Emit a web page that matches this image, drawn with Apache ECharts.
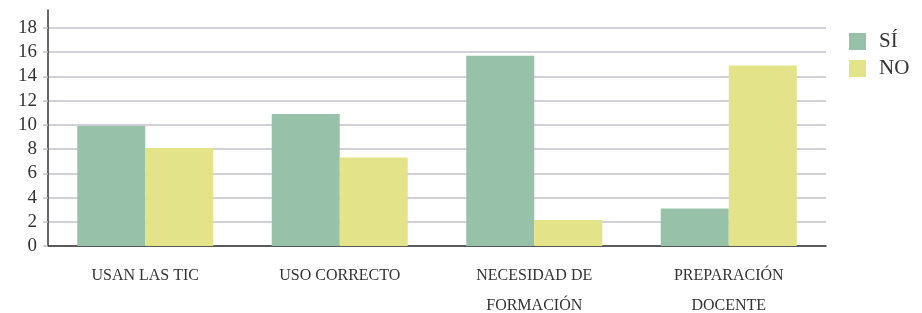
<!DOCTYPE html>
<html>
<head>
<meta charset="utf-8">
<script src="https://cdn.jsdelivr.net/npm/echarts@6/dist/echarts.min.js"></script>
<style>
  html, body { margin: 0; padding: 0; background: #fff; }
  #main { width: 922px; height: 313px; }
</style>
</head>
<body>
<div id="main"></div>
<script>
var categories = ['USAN LAS TIC', 'USO CORRECTO', 'NECESIDAD DE\nFORMACIÓN', 'PREPARACIÓN\nDOCENTE'];
var siValues = [9.9, 10.9, 15.7, 3.1];
var noValues = [8.1, 7.3, 2.15, 14.9];
var seriesNames = ['SÍ', 'NO'];

~function () {
    var myChart = echarts.init(document.getElementById('main'));
    var serif = '"Liberation Serif", "DejaVu Serif", serif';
    var option = {
        animation: false,
        legend: {
            data: seriesNames,
            orient: 'vertical',
            left: 844,
            top: 26,
            itemWidth: 17,
            itemHeight: 17,
            itemGap: 6,
            icon: 'rect',
            textStyle: {fontFamily: serif, fontSize: 21, color: '#333', padding: [0, 0, 0, 8]}
        },
        grid: [
            {left: 48, right: 96, top: 28, bottom: 67, outerBoundsMode: 'none'},
            {left: 48, right: 96, top: 10, bottom: 67, outerBoundsMode: 'none'}
        ],
        xAxis: [
            {
                type: 'category',
                data: categories,
                axisLine: {lineStyle: {color: '#333', width: 1.5}},
                axisTick: {show: false},
                axisLabel: {
                    interval: 0,
                    margin: 15,
                    fontFamily: serif,
                    fontSize: 16,
                    lineHeight: 30,
                    color: '#333'
                }
            },
            {gridIndex: 1, type: 'category', show: false, data: categories}
        ],
        yAxis: [
            {
                type: 'value',
                min: 0,
                max: 18,
                interval: 2,
                axisLine: {show: false},
                axisTick: {show: true, length: 5, lineStyle: {color: '#c0c0c8', width: 1.5}},
                axisLabel: {margin: 11, fontFamily: serif, fontSize: 19, color: '#333'},
                splitLine: {lineStyle: {color: '#c0c0c8', width: 1.5}}
            },
            {
                gridIndex: 1,
                type: 'value',
                min: 0,
                max: 1,
                axisLine: {show: true, lineStyle: {color: '#333', width: 1.5}},
                axisTick: {show: false},
                axisLabel: {show: false},
                splitLine: {show: false}
            }
        ],
        series: [
            {
                name: seriesNames[0],
                type: 'bar',
                data: siValues,
                barWidth: 68,
                barGap: '0%',
                itemStyle: {color: '#97c1a9'}
            },
            {
                name: seriesNames[1],
                type: 'bar',
                data: noValues,
                barWidth: 68,
                barGap: '0%',
                itemStyle: {color: '#e3e38a'}
            }
        ]
    };
    myChart.setOption(option);
}();
</script>
</body>
</html>
